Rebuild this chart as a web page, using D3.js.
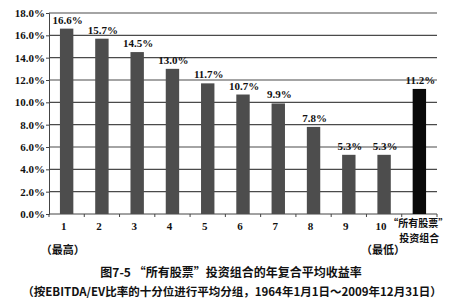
<!DOCTYPE html>
<html>
<head>
<meta charset="utf-8">
<script src="https://cdn.jsdelivr.net/npm/d3@7"></script>
<style>
  body { margin: 0; background: #fff; }
  text { font-family: "Liberation Serif", "DejaVu Serif", serif; font-weight: bold; fill: #111; }
  .cjk { font-family: "Noto Sans CJK SC", sans-serif; font-weight: bold; }
</style>
</head>
<body>
<div id="chart"></div>
<script>
// data
const categories = ["1", "2", "3", "4", "5", "6", "7", "8", "9", "10", "所有股票"];
const returns = [16.6, 15.7, 14.5, 13.0, 11.7, 10.7, 9.9, 7.8, 5.3, 5.3, 11.2];
const yTicks = [0, 2, 4, 6, 8, 10, 12, 14, 16, 18];
const titleText = "图7-5 “所有股票”投资组合的年复合平均收益率";
const subtitleText = "（按EBITDA/EV比率的十分位进行平均分组，1964年1月1日～2009年12月31日）";

const margin = { top: 13, right: 24, bottom: 94, left: 49 };
const width = 461 - margin.left - margin.right;
const height = 308 - margin.top - margin.bottom;

const svg = d3.select("#chart")
  .append("svg")
  .attr("width", 461)
  .attr("height", 308);

const chart = svg.append("g")
  .attr("transform", "translate(" + margin.left + "," + margin.top + ")");

const x = d3.scaleBand().range([0, width]).domain(categories)
  .paddingInner(0.62).paddingOuter(0.31);
const y = d3.scaleLinear().range([height, 0]).domain([0, 18]);

// grid lines
chart.append("g")
  .selectAll("line")
  .data(yTicks.filter(d => d > 0))
  .join("line")
  .attr("x1", 0)
  .attr("x2", width)
  .attr("y1", d => y(d))
  .attr("y2", d => y(d))
  .style("stroke", "#4a4a4a")
  .style("stroke-width", 1.2);

// y axis
const yAxis = chart.append("g")
  .call(d3.axisLeft(y).tickValues(yTicks).tickSize(3).tickFormat(d => d.toFixed(1) + "%"));
yAxis.select(".domain").style("stroke", "#444");
yAxis.selectAll(".tick line").style("stroke", "#444");
yAxis.selectAll("text")
  .style("font-size", "11px")
  .style("font-family", "Liberation Serif")
  .style("font-weight", "bold")
  .attr("x", -4);

// x axis line with ticks between bands
chart.append("line")
  .attr("x1", 0).attr("x2", width)
  .attr("y1", height).attr("y2", height)
  .style("stroke", "#444");
const step = x.step();
const gap = step - x.bandwidth();
chart.append("g")
  .selectAll("line")
  .data(d3.range(categories.length + 1))
  .join("line")
  .attr("x1", i => x(categories[0]) - gap / 2 + i * step)
  .attr("x2", i => x(categories[0]) - gap / 2 + i * step)
  .attr("y1", height)
  .attr("y2", height + 3)
  .style("stroke", "#444");

// bars
chart.selectAll(".bar")
  .data(returns)
  .join("rect")
  .attr("class", "bar")
  .attr("x", (d, i) => x(categories[i]))
  .attr("y", d => y(d))
  .attr("width", x.bandwidth())
  .attr("height", d => height - y(d))
  .style("fill", (d, i) => i === categories.length - 1 ? "#0a0a0a" : "#4d4d4d");

// value labels
chart.selectAll(".val")
  .data(returns)
  .join("text")
  .attr("class", "val")
  .attr("x", (d, i) => x(categories[i]) + x.bandwidth() / 2 + 1)
  .attr("y", d => y(d) - 5)
  .attr("text-anchor", "middle")
  .style("font-size", "11px")
  .text(d => d.toFixed(1) + "%");

// category labels
categories.forEach((c, i) => {
  const cx = x(c) + x.bandwidth() / 2;
  if (i < categories.length - 1) {
    chart.append("text")
      .attr("x", cx - 3)
      .attr("y", height + 16)
      .attr("text-anchor", "middle")
      .style("font-size", "11px")
      .text(c);
  } else {
    chart.append("text")
      .attr("class", "cjk")
      .attr("x", cx - 1)
      .attr("y", height + 13)
      .attr("text-anchor", "middle")
      .style("font-size", "10px")
      .text("“" + c + "”");
    chart.append("text")
      .attr("class", "cjk")
      .attr("x", cx)
      .attr("y", height + 28)
      .attr("text-anchor", "middle")
      .style("font-size", "10px")
      .text("投资组合");
  }
});

// (最高) / (最低)
chart.append("text")
  .attr("class", "cjk")
  .attr("x", x(categories[0]) + x.bandwidth() / 2 - 4)
  .attr("y", height + 40)
  .attr("text-anchor", "middle")
  .style("font-size", "11px")
  .text("（最高）");
chart.append("text")
  .attr("class", "cjk")
  .attr("x", x(categories[9]) + x.bandwidth() / 2 - 1)
  .attr("y", height + 40)
  .attr("text-anchor", "middle")
  .style("font-size", "11px")
  .text("（最低）");

// title
svg.append("text")
  .attr("class", "cjk")
  .attr("x", 231)
  .attr("y", 277)
  .attr("text-anchor", "middle")
  .style("font-size", "12px")
  .text(titleText);
svg.append("text")
  .attr("class", "cjk")
  .attr("x", 232)
  .attr("y", 296)
  .attr("text-anchor", "middle")
  .style("font-size", "11.5px")
  .text(subtitleText);
</script>
</body>
</html>
